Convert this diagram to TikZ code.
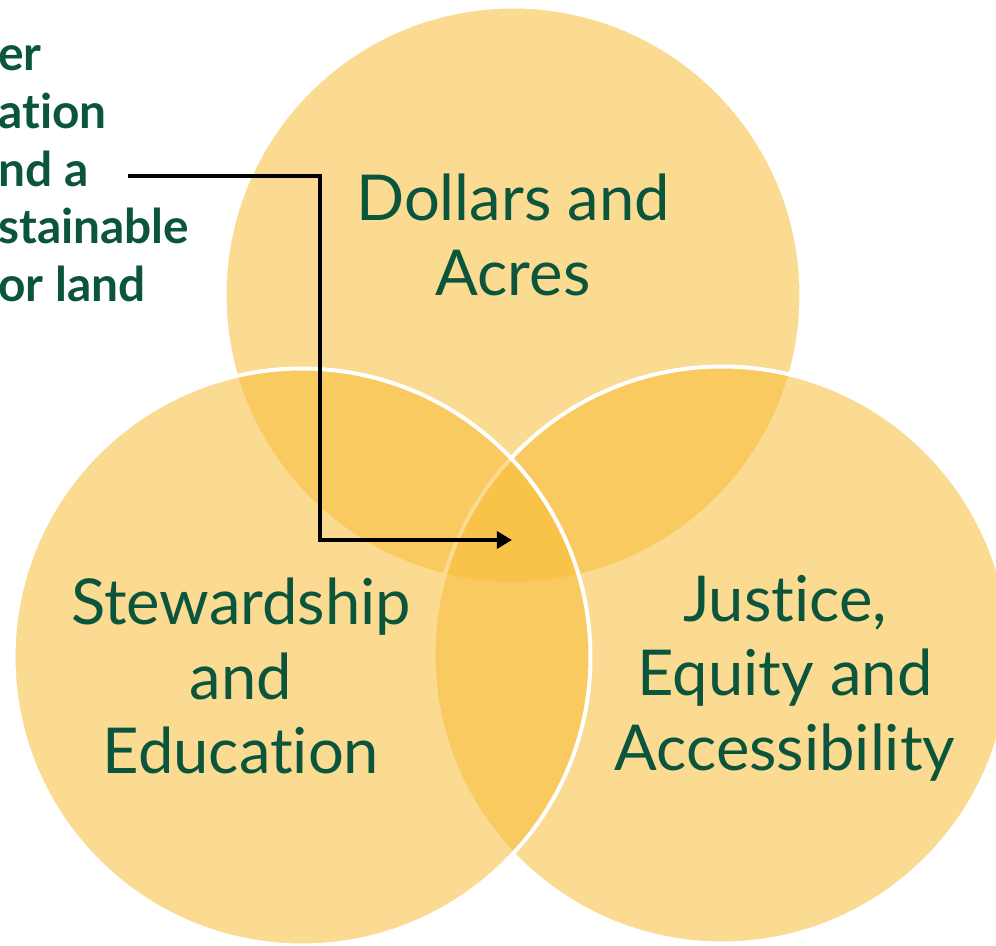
\documentclass[tikz,border=0pt]{standalone}
\usepackage{fontspec}
\setmainfont{Lato}[Ligatures=NoCommon]
\usepackage{xcolor}
\usetikzlibrary{arrows.meta, positioning}

\definecolor{amber}{RGB}{248,188,55}
\definecolor{forest}{RGB}{10,85,60}

\begin{document}
\begin{tikzpicture}[x=0.025cm, y=-0.025cm]

	\tikzstyle{ring} = [circle, minimum size=14.42cm, inner sep=0pt, fill=amber, fill opacity=0.55, draw=white, draw opacity=1, line width=0.1cm]
	\tikzstyle{theme} = [text=forest, align=center, font=\fontsize{45}{53}\selectfont]
	\tikzstyle{note} = [text=forest, align=left, inner sep=0pt, font=\fontsize{34}{41}\selectfont\bfseries]
	\tikzstyle{link} = [line width=0.11cm, -{Triangle[length=0.38cm, width=0.42cm]}]
	\useasboundingbox (0,0) rectangle (996,946);

	% circles: top, right, left
	\node[ring] (acres)   at (513,295) {};
	\node[ring] (justice) at (722,655) {};
	\node[ring] (steward) at (302,657) {};

	\node[theme] (acrestext)   at (513,235) {Dollars and\\Acres};
	\node[theme] (justicetext) at (785,678) {Justice,\\Equity and\\Accessibility};
	\node[theme] (stewardtext) at (241,676) {Stewardship\\and\\Education};

	\node[note, anchor=west] (goal) at (-2,174) {er\\ation\\nd a\\stainable\\or land};

	\coordinate (lead) at (128,176);
	\coordinate (hub) at (512,540);
	\draw [link] (lead) -| (320,540) -- (hub);

\end{tikzpicture}
\end{document}
